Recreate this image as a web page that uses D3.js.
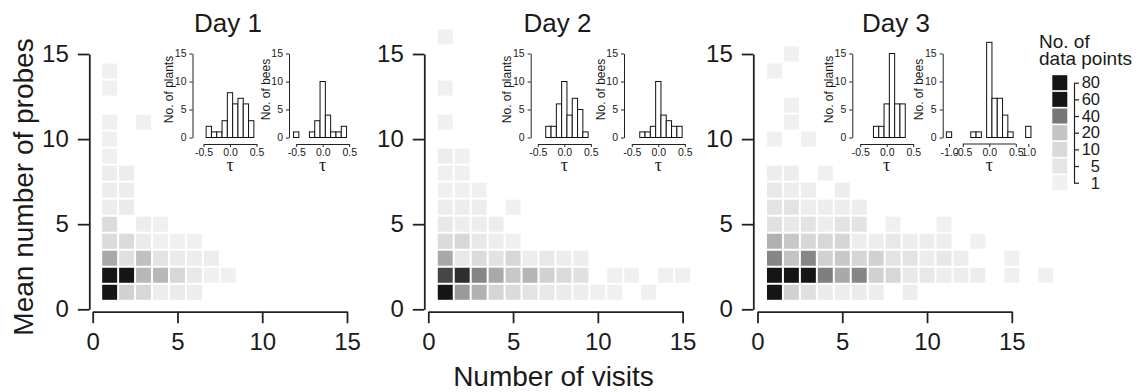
<!DOCTYPE html>
<html>
<head>
<meta charset="utf-8">
<script src="https://cdn.jsdelivr.net/npm/d3@7"></script>
<style>
  body { margin: 0; background: #fff; }
  text { font-family: "Liberation Sans", Arial, Helvetica, sans-serif; fill: #1a1a1a; }
</style>
</head>
<body>
<div id="root"></div>
<script>
const WIDTH = 1146
const HEIGHT = 392

const dayTitles = ['Day 1', 'Day 2', 'Day 3']
const visitTicks = [0, 5, 10, 15]
const probeTicks = [0, 5, 10, 15]

// heatmap cells: [number of visits, mean number of probes, number of data points]
const day1Cells = [
  [1, 1, 70], [2, 1, 14], [3, 1, 11], [4, 1, 2], [5, 1, 3], [6, 1, 2],
  [1, 2, 70], [2, 2, 65], [3, 2, 23], [4, 2, 23], [5, 2, 11], [6, 2, 4], [7, 2, 1], [8, 2, 1],
  [1, 3, 27], [2, 3, 7], [3, 3, 21], [4, 3, 6], [5, 3, 3], [6, 3, 2], [7, 3, 2],
  [1, 4, 9], [2, 4, 9], [3, 4, 3], [4, 4, 1], [5, 4, 1], [6, 4, 1],
  [1, 5, 9], [3, 5, 2], [4, 5, 1],
  [1, 6, 2], [2, 6, 3],
  [1, 7, 2], [2, 7, 2],
  [1, 8, 2], [2, 8, 2],
  [1, 9, 1], [1, 10, 1], [1, 11, 1], [3, 11, 1], [1, 13, 1], [1, 14, 1]
]

const day2Cells = [
  [1, 1, 62], [2, 1, 31], [3, 1, 25], [4, 1, 12], [5, 1, 9], [6, 1, 6], [7, 1, 4], [8, 1, 3], [9, 1, 2], [10, 1, 1], [11, 1, 1], [13, 1, 1],
  [1, 2, 50], [2, 2, 55], [3, 2, 36], [4, 2, 27], [5, 2, 18], [6, 2, 24], [7, 2, 14], [8, 2, 9], [9, 2, 7], [11, 2, 1], [12, 2, 1], [14, 2, 1], [15, 2, 1],
  [1, 3, 27], [2, 3, 4], [3, 3, 9], [4, 3, 6], [5, 3, 11], [6, 3, 2], [7, 3, 4], [8, 3, 2], [9, 3, 2],
  [1, 4, 9], [2, 4, 11], [3, 4, 4], [4, 4, 2], [5, 4, 1],
  [1, 5, 4], [2, 5, 2], [3, 5, 2], [4, 5, 2],
  [1, 6, 2], [2, 6, 2], [3, 6, 2], [5, 6, 1],
  [1, 7, 1], [2, 7, 1], [3, 7, 1],
  [1, 8, 1], [2, 8, 1],
  [1, 9, 2], [2, 9, 1],
  [1, 11, 1], [1, 13, 1], [1, 16, 1]
]

const day3Cells = [
  [1, 1, 70], [2, 1, 14], [3, 1, 7], [4, 1, 3], [5, 1, 2], [6, 1, 3], [7, 1, 2], [9, 1, 2],
  [1, 2, 75], [2, 2, 72], [3, 2, 65], [4, 2, 38], [5, 2, 27], [6, 2, 36], [7, 2, 14], [8, 2, 11], [9, 2, 4], [10, 2, 4], [11, 2, 2], [12, 2, 2], [13, 2, 2], [15, 2, 1], [17, 2, 1],
  [1, 3, 36], [2, 3, 20], [3, 3, 36], [4, 3, 14], [5, 3, 18], [6, 3, 12], [7, 3, 14], [8, 3, 6], [9, 3, 6], [10, 3, 2], [11, 3, 4], [12, 3, 2], [15, 3, 1],
  [1, 4, 25], [2, 4, 18], [3, 4, 11], [4, 4, 11], [5, 4, 12], [6, 4, 2], [7, 4, 2], [8, 4, 4], [9, 4, 2], [10, 4, 2], [11, 4, 2], [13, 4, 1],
  [1, 5, 7], [2, 5, 4], [3, 5, 6], [4, 5, 2], [5, 5, 6], [6, 5, 6], [8, 5, 1], [11, 5, 1],
  [1, 6, 6], [2, 6, 6], [3, 6, 2], [4, 6, 2], [5, 6, 2], [6, 6, 2],
  [1, 7, 4], [2, 7, 2], [3, 7, 2], [5, 7, 2],
  [1, 8, 2], [2, 8, 2], [4, 8, 1],
  [1, 10, 1], [3, 10, 1], [2, 11, 1], [2, 12, 1], [1, 14, 1], [2, 15, 1]
]

const legendValues = [80, 60, 40, 20, 10, 5, 1]
const colorStops = [1, 5, 10, 20, 40, 60]
const colorGreys = ['#f0f0f0', '#e5e5e5', '#d9d9d9', '#c4c4c4', '#777777', '#151515']

// inset histograms of tau: bin centres and counts
const tauTicks = [-0.5, 0, 0.5]
const tauTicksWide = [-1, -0.5, 0, 0.5, 1]
const histTicks = [0, 5, 10, 15]

const day1PlantTau = [-0.4, -0.3, -0.2, -0.1, 0, 0.1, 0.2, 0.3, 0.4]
const day1PlantCount = [2, 1, 1, 3, 8, 6, 7, 6, 3]
const day1BeeTau = [-0.5, -0.2, -0.1, 0, 0.1, 0.2, 0.3, 0.4]
const day1BeeCount = [1, 1, 3, 10, 4, 1, 1, 2]
const day2PlantTau = [-0.3, -0.2, -0.1, 0, 0.1, 0.2, 0.3, 0.4]
const day2PlantCount = [2, 2, 6, 10, 4, 7, 5, 1]
const day2BeeTau = [-0.3, -0.2, -0.1, 0, 0.1, 0.2, 0.3, 0.4]
const day2BeeCount = [1, 1, 2, 10, 4, 3, 2, 2]
const day3PlantTau = [-0.2, -0.1, 0, 0.1, 0.2, 0.3]
const day3PlantCount = [2, 2, 6, 15, 6, 6]
const day3BeeTau = [-1, -0.3, -0.2, 0, 0.1, 0.2, 0.3, 0.4, 1]
const day3BeeCount = [1, 1, 1, 17, 7, 7, 4, 1, 2]

// layout
const MAIN_Y0 = 309.3
const MAIN_Y15 = 54
const MAIN_X_AXIS_Y = 311.7
const MAIN_X_SPAN = 254.3
const AXIS_COLOR = '#222'

const HIST_Y0 = 137.5
const HIST_Y15 = 53.5
const HIST_X_AXIS_Y = 144
const TAU_UNIT = 53
const BIN_PX = 0.1 * TAU_UNIT

const panels = [
  {
    title: dayTitles[0], titleX: 228, yAxisX: 89.3, x0: 92.7, cells: day1Cells,
    hists: [
      { axisX: 192.5, tau0: 230, label: 'No. of plants', tau: day1PlantTau, count: day1PlantCount },
      { axisX: 289, tau0: 322.7, label: 'No. of bees', tau: day1BeeTau, count: day1BeeCount }
    ]
  },
  {
    title: dayTitles[1], titleX: 557.5, yAxisX: 424.3, x0: 428.3, cells: day2Cells,
    hists: [
      { axisX: 530.7, tau0: 564.3, label: 'No. of plants', tau: day2PlantTau, count: day2PlantCount },
      { axisX: 624, tau0: 658.3, label: 'No. of bees', tau: day2BeeTau, count: day2BeeCount }
    ]
  },
  {
    title: dayTitles[2], titleX: 896, yAxisX: 753.3, x0: 757.5, cells: day3Cells,
    hists: [
      { axisX: 852.3, tau0: 886.7, label: 'No. of plants', tau: day3PlantTau, count: day3PlantCount },
      { axisX: 942.7, tau0: 989.3, label: 'No. of bees', tau: day3BeeTau, count: day3BeeCount, wide: true }
    ]
  }
]

const colorScale = d3.scaleLinear()
  .domain(colorStops)
  .range(colorGreys)
  .clamp(true)

const svg = d3.select('#root')
  .append('svg')
  .attr('width', WIDTH)
  .attr('height', HEIGHT)

const styleAxis = (g, fontSize, width) => {
  g.attr('font-family', null).attr('font-size', null)
  g.selectAll('path, line').attr('stroke', AXIS_COLOR).attr('stroke-width', width)
  g.selectAll('text').style('font-size', `${fontSize}px`).attr('fill', '#1a1a1a')
}

const yScale = d3.scaleLinear().domain([0, 15]).range([MAIN_Y0, MAIN_Y15])
const histY = d3.scaleLinear().domain([0, 15]).range([HIST_Y0, HIST_Y15])
const tauFormat = d => d.toFixed(1)

panels.forEach(panel => {
  const xScale = d3.scaleLinear().domain([0, 15]).range([panel.x0, panel.x0 + MAIN_X_SPAN])
  const cellW = xScale(1) - xScale(0) - 2
  const cellH = yScale(0) - yScale(1) - 2

  svg.append('g')
    .selectAll('rect')
    .data(panel.cells)
    .enter()
    .append('rect')
    .attr('x', d => xScale(d[0] - 0.5) + 1)
    .attr('y', d => yScale(d[1] + 0.5) + 1)
    .attr('width', cellW)
    .attr('height', cellH)
    .attr('fill', d => colorScale(d[2]))

  svg.append('g')
    .attr('transform', `translate(${panel.yAxisX}, 0)`)
    .call(d3.axisLeft(yScale).tickValues(probeTicks).tickSize(11.5).tickPadding(9).tickSizeOuter(0))
    .call(g => styleAxis(g, 24, 1.8))

  svg.append('g')
    .attr('transform', `translate(0, ${MAIN_X_AXIS_Y})`)
    .call(d3.axisBottom(xScale).tickValues(visitTicks).tickSize(11.5).tickPadding(10).tickSizeOuter(0))
    .call(g => styleAxis(g, 24, 1.8))

  svg.append('text')
    .attr('x', panel.titleX)
    .attr('y', 31.7)
    .attr('text-anchor', 'middle')
    .style('font-size', '26px')
    .text(panel.title)

  panel.hists.forEach(h => {
    const histX = h.wide
      ? d3.scaleLinear().domain([-1, -0.5, 0.5, 1]).range([h.tau0 - 40.3, h.tau0 - TAU_UNIT / 2, h.tau0 + TAU_UNIT / 2, h.tau0 + 39])
      : d3.scaleLinear().domain([-0.5, 0.5]).range([h.tau0 - TAU_UNIT / 2, h.tau0 + TAU_UNIT / 2])

    const bins = h.tau.map((t, i) => ({ tau: t, n: h.count[i] }))

    svg.append('g')
      .selectAll('rect')
      .data(bins)
      .enter()
      .append('rect')
      .attr('x', d => histX(d.tau) - BIN_PX / 2)
      .attr('y', d => histY(d.n))
      .attr('width', BIN_PX)
      .attr('height', d => histY(0) - histY(d.n))
      .attr('fill', '#fff')
      .attr('stroke', '#111')
      .attr('stroke-width', 1)

    svg.append('g')
      .attr('transform', `translate(${h.axisX}, 0)`)
      .call(d3.axisLeft(histY).tickValues(histTicks).tickSize(3).tickPadding(3).tickSizeOuter(0))
      .call(g => styleAxis(g, 10.5, 1))

    const xAxisG = svg.append('g')
      .attr('transform', `translate(0, ${HIST_X_AXIS_Y})`)
      .call(d3.axisBottom(histX).tickValues(h.wide ? tauTicksWide : tauTicks).tickFormat(tauFormat).tickSize(3).tickPadding(1.5).tickSizeOuter(0))
      .call(g => styleAxis(g, 10.5, 1))

    if (h.wide) {
      xAxisG.select('.domain').remove()
      xAxisG.append('line')
        .attr('x1', histX(-0.5))
        .attr('x2', histX(0.5))
        .attr('stroke', AXIS_COLOR)
    }

    svg.append('text')
      .attr('transform', `translate(${h.axisX - 19.5}, ${(HIST_Y0 + HIST_Y15) / 2 - 6}) rotate(-90)`)
      .attr('text-anchor', 'middle')
      .style('font-size', '12px')
      .text(h.label)

    svg.append('text')
      .attr('x', h.tau0)
      .attr('y', 171)
      .attr('text-anchor', 'middle')
      .style('font-family', '"Liberation Serif", "DejaVu Serif", serif')
      .style('font-size', '18px')
      .text('τ')
  })
})

svg.append('text')
  .attr('transform', 'translate(33, 187) rotate(-90)')
  .attr('text-anchor', 'middle')
  .style('font-size', '28px')
  .text('Mean number of probes')

svg.append('text')
  .attr('x', 553.5)
  .attr('y', 386)
  .attr('text-anchor', 'middle')
  .style('font-size', '28px')
  .text('Number of visits')

// legend
const LEGEND_TOP = 82.7
const LEGEND_STEP = 16.67
const legendY = d3.scalePoint()
  .domain(legendValues)
  .range([LEGEND_TOP, LEGEND_TOP + LEGEND_STEP * (legendValues.length - 1)])

const legend = svg.append('g').attr('id', 'legend')

legend.append('text')
  .attr('x', 1039)
  .attr('y', 48)
  .style('font-size', '19px')
  .text('No. of')

legend.append('text')
  .attr('x', 1039)
  .attr('y', 64.5)
  .style('font-size', '19px')
  .text('data points')

legend.selectAll('rect')
  .data(legendValues)
  .enter()
  .append('rect')
  .attr('x', 1052.3)
  .attr('y', d => legendY(d) - 7.5)
  .attr('width', 15)
  .attr('height', 15)
  .attr('fill', d => colorScale(d))

legend.append('g')
  .attr('transform', 'translate(1074, 0)')
  .call(d3.axisRight(legendY).tickSize(5).tickPadding(2).tickSizeOuter(0))
  .call(g => styleAxis(g, 16.5, 1.2))
  .call(g => g.selectAll('text').attr('text-anchor', 'end').attr('x', 26))
</script>
</body>
</html>
